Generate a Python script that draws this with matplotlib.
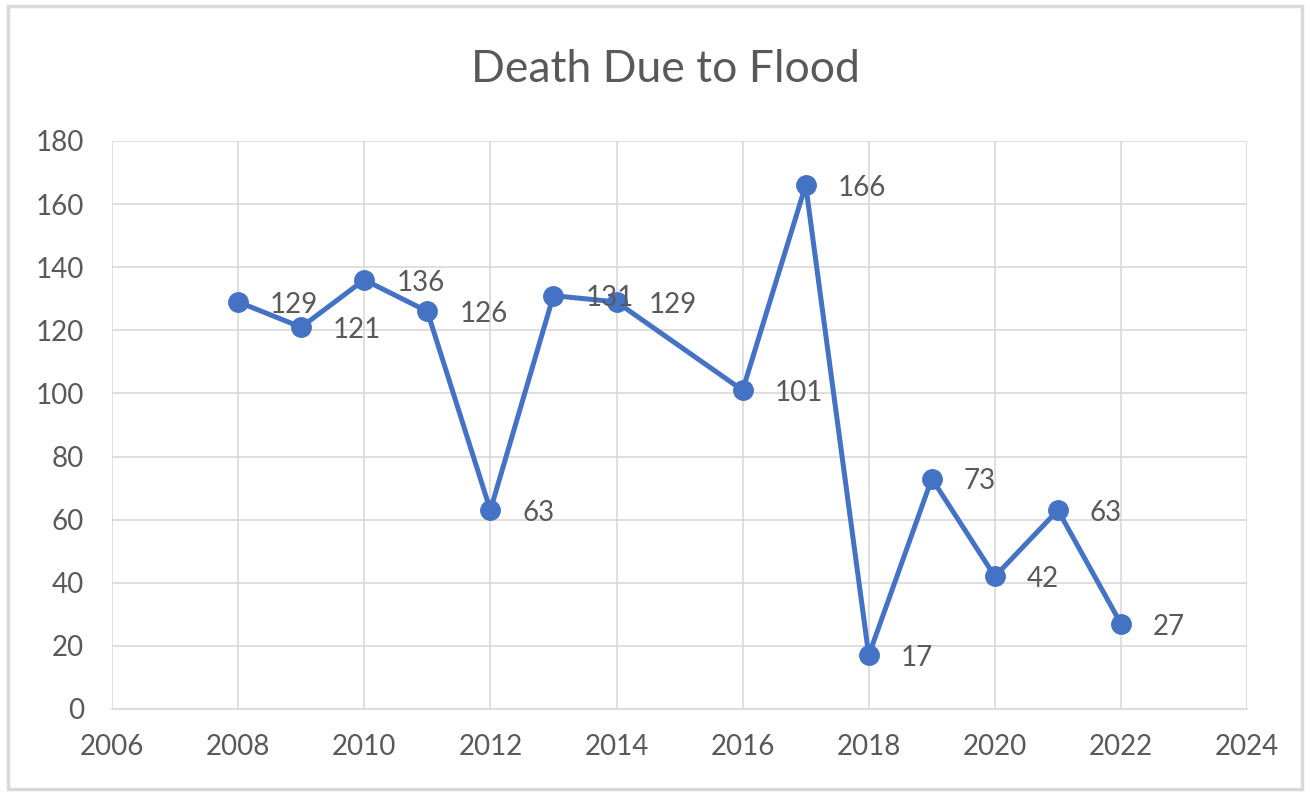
import matplotlib
matplotlib.use("Agg")
import matplotlib.pyplot as plt
from matplotlib.patches import Rectangle

years = [2008, 2009, 2010, 2011, 2012, 2013, 2014, 2016, 2017, 2018, 2019, 2020, 2021, 2022]
deaths = [129, 121, 136, 126, 63, 131, 129, 101, 166, 17, 73, 42, 63, 27]
x_ticks = [2006, 2008, 2010, 2012, 2014, 2016, 2018, 2020, 2022, 2024]
y_ticks = [0, 20, 40, 60, 80, 100, 120, 140, 160, 180]
title = "Death Due to Flood"

plt.rcParams['font.family'] = ['Lato', 'DejaVu Sans']
text_color = '#595959'
line_color = '#4472C4'
grid_color = '#D9D9D9'

fig = plt.figure(figsize=(13.1, 7.92), dpi=100)
fig.patches.append(Rectangle((0.006, 0.004), 0.988, 0.988, transform=fig.transFigure,
                             fill=False, edgecolor='#D9D9D9', linewidth=2.5))
ax = fig.add_axes([0.0855, 0.1048, 0.8665, 0.7172])

ax.plot(years, deaths, color=line_color, linewidth=3.6, marker='o', markersize=14,
        markerfacecolor=line_color, markeredgecolor=line_color, zorder=3)
for xv, yv in zip(years, deaths):
    ax.annotate(str(yv), (xv, yv), xytext=(23, -2), textcoords='offset points',
                ha='left', va='center', fontsize=20, color=text_color, zorder=4)

ax.set_xlim(2006, 2024)
ax.set_ylim(0, 180)
ax.set_xticks(x_ticks)
ax.set_yticks(y_ticks)
ax.grid(True, color=grid_color, linewidth=1.2)
ax.set_axisbelow(True)
for s in ['top', 'right', 'left']:
    ax.spines[s].set_visible(False)
ax.spines['bottom'].set_color(grid_color)
ax.spines['bottom'].set_linewidth(1.2)
ax.tick_params(axis='both', length=0, labelsize=20, labelcolor=text_color)
ax.tick_params(axis='y', pad=20)
ax.tick_params(axis='x', pad=18)

fig.text(0.508, 0.912, title, ha='center', va='center', fontsize=32, color=text_color)

fig.savefig('out.png', dpi=100)
